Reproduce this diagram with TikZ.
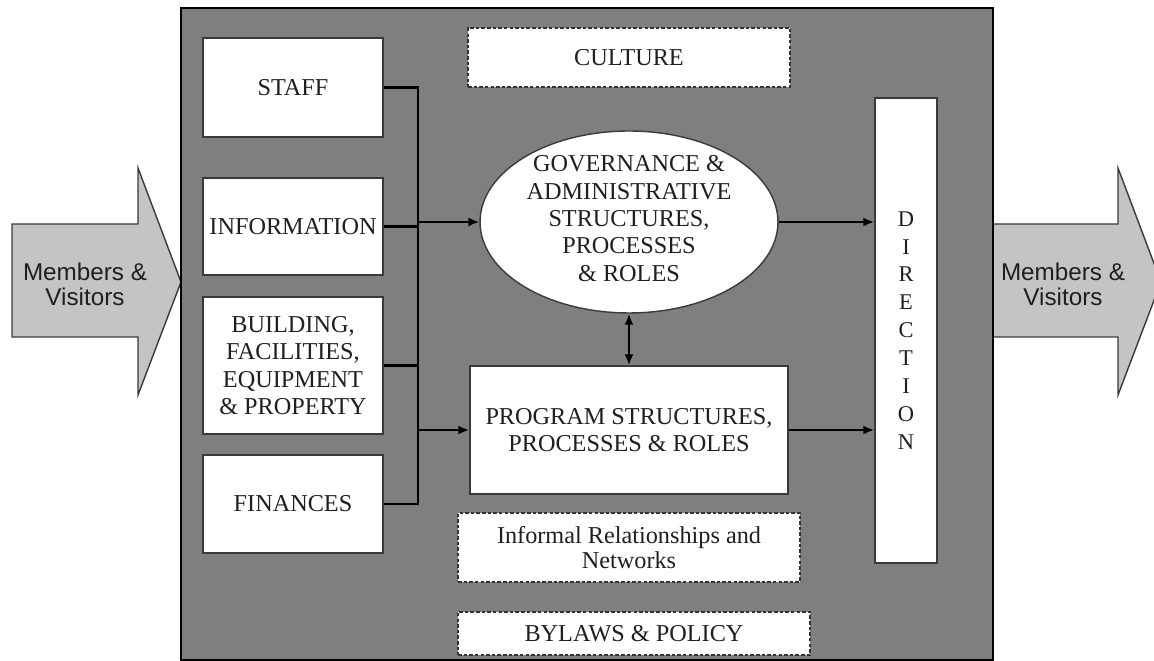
\documentclass[tikz,border=0pt]{standalone}
\usepackage{fontspec}
\setmainfont{Liberation Serif}
\newfontfamily\arrowfont{Liberation Sans}
\usetikzlibrary{shapes.geometric,arrows.meta}
\definecolor{boardgray}{HTML}{7F7F7F}
\definecolor{flowgray}{HTML}{C4C4C4}
\definecolor{edgegray}{HTML}{3A3A3A}

\begin{document}
\begin{tikzpicture}[x=0.02cm, y=-0.02cm,
    font=\fontsize{13.8}{15.6}\selectfont, text=black!88,
    part/.style={draw=edgegray, line width=0.8pt, fill=white, align=center, inner sep=2pt},
    softpart/.style={part, draw=black!80, line width=1pt, dash pattern=on 2pt off 1.2pt},
    link/.style={line width=1.3pt, -{Latex[length=2.2mm,width=1.8mm]}},
    twoway/.style={line width=1.3pt, {Latex[length=2.2mm,width=1.8mm]}-{Latex[length=2.2mm,width=1.8mm]}},
    bus/.style={line width=1.3pt},
    flow/.style={fill=flowgray, draw=edgegray, line width=0.8pt}]
    \clip (0,0) rectangle (1154,661);

    % People coming in and going out
    \draw[flow] (12,224) -- (138,224) -- (138,168) -- (181,282) -- (138,395) -- (138,337) -- (12,337) -- cycle;
    \draw[flow] (993,224) -- (1118,224) -- (1118,168) -- (1161,282) -- (1118,395) -- (1118,337) -- (993,337) -- cycle;
    \node[align=center, font=\arrowfont\fontsize{13.8}{14.3}\selectfont] (inflow) at (85,284) {Members \&\\Visitors};
    \node[align=center, font=\arrowfont\fontsize{13.8}{14.3}\selectfont] (outflow) at (1063,284) {Members \&\\Visitors};

    % The organisation itself
    \draw[fill=boardgray, line width=1.6pt] (181,8) rectangle (993,660);

    % Resources
    \node[part, minimum width=3.6cm, minimum height=1.98cm] (staff) at (293,87.5) {STAFF};
    \node[part, minimum width=3.6cm, minimum height=1.94cm] (information) at (293,226.5) {INFORMATION};
    \node[part, minimum width=3.6cm, minimum height=2.74cm] (building) at (293,365.5) {BUILDING,\\FACILITIES,\\EQUIPMENT\\\& PROPERTY};
    \node[part, minimum width=3.6cm, minimum height=1.96cm] (finances) at (293,504) {FINANCES};

    % Structures
    \node[part, ellipse, minimum width=5.96cm, minimum height=3.64cm, inner sep=0] (governance) at (629,222) {};
    \node[align=center] (govtext) at ([yshift=2pt]governance.center) {GOVERNANCE \&\\ADMINISTRATIVE\\STRUCTURES,\\PROCESSES\\\& ROLES};
    \node[part, minimum width=6.36cm, minimum height=2.56cm] (program) at (629,430) {PROGRAM STRUCTURES,\\PROCESSES \& ROLES};
    \node[part, minimum width=1.24cm, minimum height=9.3cm, font=\fontsize{12.8}{15.9}\selectfont] (direction) at (906,330.5) {D\\I\\R\\E\\C\\T\\I\\O\\N};

    % Softer influences
    \node[softpart, minimum width=6.44cm, minimum height=1.18cm] (culture) at (629,57.5) {CULTURE};
    \node[softpart, minimum width=6.84cm, minimum height=1.38cm, font=\fontsize{13.8}{13.8}\selectfont] (informal) at (629,547.5) {Informal Relationships and\\Networks};
    \node[softpart, minimum width=7.04cm, minimum height=0.86cm] (bylaws) at (634,633.5) {BYLAWS \& POLICY};

    % Resources feed the structures
    \draw[bus] (staff.east) -- ++(34,0) coordinate (bustop) |- (finances.east);
    \draw[bus] (information.east) -- (information.east -| bustop);
    \draw[bus] (building.east) -- (building.east -| bustop);
    \draw[link] (bustop |- governance.west) -- (governance.west);
    \draw[link] (bustop |- program.west) -- (program.west);

    % Structures give direction
    \draw[link] (governance.east) -- (governance.east -| direction.west);
    \draw[link] (program.east) -- (program.east -| direction.west);
    \draw[twoway] (governance.south) -- (program.north);
\end{tikzpicture}
\end{document}
